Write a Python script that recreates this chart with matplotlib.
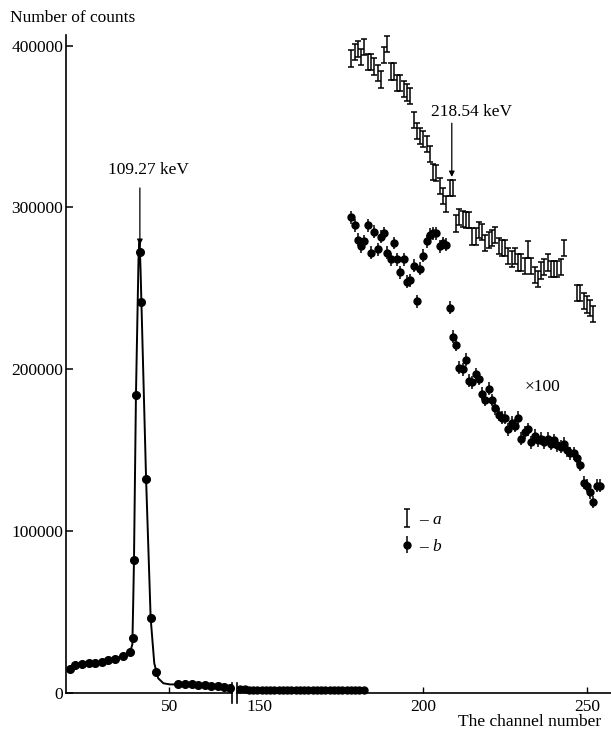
import matplotlib
matplotlib.use("Agg")
import matplotlib.pyplot as plt
from matplotlib.lines import Line2D
import numpy as np

plt.rcParams['font.family'] = ['Liberation Serif', 'DejaVu Serif']
plt.rcParams['mathtext.fontset'] = 'custom'
plt.rcParams['mathtext.it'] = 'Liberation Serif:italic'
plt.rcParams['mathtext.rm'] = 'Liberation Serif'

# ---------------- data ----------------
# left segment (main peak), series b points
left_ch = [19.6, 21.3, 23.3, 25.3, 27.3, 29.3, 31.3, 33.4, 35.8, 38.0,
           38.8, 39.2, 39.8, 40.9, 41.2, 42.9, 44.3, 46.0,
           52.8, 54.8, 56.8, 58.8, 60.8, 62.8, 64.8, 66.8, 68.6]
left_counts = [14600, 17300, 18000, 18300, 18700, 19300, 20200, 21200, 22800, 25500,
               33800, 82200, 184100, 272700, 241800, 132000, 46100, 13200,
               5600, 5500, 5400, 5200, 4900, 4500, 4100, 3700, 3200]

# fitted curve through the peak
curve_ch = [19.6, 21.3, 23.3, 25.3, 27.3, 29.3, 31.3, 33.4, 35.8, 38.0, 38.7, 39.0,
            39.2, 39.8, 40.6, 40.9, 41.2, 42.9, 44.3, 45.4, 46.6, 48.2, 50.2, 52.8]
curve_counts = [14600, 17000, 18000, 18400, 18800, 19400, 20200, 21200, 22700, 25300, 30000, 60000,
                82200, 184100, 270000, 279000, 262000, 132000, 46100, 18400, 9100, 6000, 5300, 5300]

# right segment, low-level series b points (unscaled)
low_ch = [144.0, 145.3, 146.6, 147.9, 149.2, 150.5, 151.8, 153.1, 154.4, 155.7,
          157.0, 158.3, 159.6, 160.9, 162.2, 163.5, 164.8, 166.1, 167.4, 168.7,
          170.0, 171.3, 172.6, 173.9, 175.2, 176.5, 177.8, 179.1, 180.4, 181.7]
low_counts = [2200, 2200, 2100, 2100, 2100, 2000, 2000, 2000, 1900, 1900,
              1900, 1900, 1800, 1800, 1800, 1800, 1800, 1700, 1700, 1700,
              1700, 1700, 1700, 1700, 1600, 1600, 1600, 1600, 1600, 1600]

# series a (error bars only)
a_ch = [178, 179, 180, 181, 182, 183, 184, 185, 186, 187, 188, 189, 190, 191, 192, 193,
        194, 195, 196, 197, 198, 199, 200, 201, 202, 203, 204, 205, 206, 207, 208, 209,
        210, 211, 212, 213, 214, 215, 216, 217, 218, 219, 220, 221, 222, 223, 224, 225,
        226, 227, 228, 229, 230, 231, 232, 233, 234, 235, 236, 237, 238, 239, 240, 241,
        242, 243, 247, 248, 249, 250, 251, 252]
a_counts = [392000, 396000, 398000, 393000, 399000, 390000, 390000, 387000, 383000, 379000,
            394000, 401000, 384000, 384000, 377000, 377000, 373000, 371000, 369000, 354000,
            347000, 344000, 342000, 339000, 333000, 322000, 321000, 313000, 307000, 302000,
            312000, 312000, 290000, 294000, 293000, 292000, 292000, 282000, 282000, 286000,
            285000, 278000, 280000, 281000, 283000, 276000, 275000, 275000, 270000, 268000,
            270000, 266000, 266000, 264000, 274000, 264000, 258000, 256000, 261000, 263000,
            266000, 262000, 262000, 262000, 263000, 275000, 247000, 247000, 242000, 240000,
            238000, 234000]
a_err = 5000

# series b (x100) with error bars
b_ch = list(range(178, 255))
b_counts = [294000, 289000, 280000, 276000, 279000, 289000, 272000, 285000, 274000, 282000,
            284000, 272000, 268000, 278000, 268000, 260000, 268000, 254000, 255000, 264000,
            242000, 262000, 270000, 279000, 283000, 284000, 284000, 276000, 278000, 277000,
            238000, 220000, 215000, 201000, 200000, 206000, 193000, 192000, 197000, 194000,
            185000, 181000, 188000, 181000, 176000, 172000, 170000, 170000, 163000, 167000,
            165000, 170000, 157000, 161000, 163000, 155000, 159000, 156000, 157000, 155000,
            157000, 154000, 156000, 153000, 152000, 154000, 150000, 148000, 148000, 145000,
            141000, 130000, 128000, 124000, 118000, 128000, 128000]
b_err = 4000

y_ticks = [0, 100000, 200000, 300000, 400000]
y_ticklabels = ['0', '100000', '200000', '300000', '400000']
left_xticks = [50]
right_xticks = [150, 200, 250]

# ---------------- figure ----------------
W, H = 611, 733
fig = plt.figure(figsize=(W / 100, H / 100), dpi=100)

def fx(px):
    return px / W

def fy(py):
    return 1 - py / H

bottom = fy(693)
top = fy(35)
axL = fig.add_axes([fx(66), bottom, fx(232) - fx(66), top - bottom])
axR = fig.add_axes([fx(237), bottom, fx(611) - fx(237), top - bottom], sharey=axL)

ymax = 406500
for ax in (axL, axR):
    ax.set_ylim(0, ymax)
    ax.spines['top'].set_visible(False)
    ax.spines['right'].set_visible(False)
    ax.patch.set_alpha(0)
    for s in ax.spines.values():
        s.set_linewidth(1.2)
axL.set_xlim(18.41, 69.17)
axR.set_xlim(143.0, 257.4)
axR.spines['left'].set_visible(False)

fs = 12.5
axL.set_yticks(y_ticks)
axL.set_yticklabels(y_ticklabels)
axL.tick_params(axis='y', direction='in', length=5, width=1.1, pad=2, labelsize=fs)
axL.set_xticks(left_xticks)
axL.tick_params(axis='x', direction='in', length=4, width=1.0, pad=4, labelsize=fs)
axR.set_xticks(right_xticks)
axR.tick_params(axis='x', direction='in', length=4, width=1.0, pad=4, labelsize=fs)
axR.tick_params(axis='y', left=False, labelleft=False)

# main peak
axL.plot(curve_ch, curve_counts, color='black', lw=1.4, zorder=2)
axL.plot(left_ch, left_counts, 'o', color='black', ms=5.5, zorder=3, clip_on=False)
axR.plot(low_ch, low_counts, 'o', color='black', ms=5, zorder=3, clip_on=False)

# series a and b
ha = axR.errorbar(a_ch, a_counts, yerr=a_err, fmt='none', ecolor='black',
                  elinewidth=1.1, capsize=2.2, capthick=1.1)
hb = axR.errorbar(b_ch, b_counts, yerr=b_err, fmt='o', color='black', ms=5,
                  elinewidth=1.1, capsize=0)

# annotations
arrow_kw = dict(arrowstyle='-|>', color='black', lw=0.9, mutation_scale=8,
                shrinkA=0, shrinkB=0)
axL.annotate('', xy=(41.0, 276800), xytext=(41.0, 312000), arrowprops=arrow_kw)
axL.text(43.7, 323000, '109.27 keV', ha='center', va='center', fontsize=fs)
axR.annotate('', xy=(208.7, 318800), xytext=(208.7, 352000), arrowprops=arrow_kw)
axR.text(214.6, 359000, '218.54 keV', ha='center', va='center', fontsize=fs)
axR.text(236.6, 189000, '×100', ha='center', va='center', fontsize=fs)

leg = axR.legend([ha, hb], [r'– $\mathit{a}$', r'– $\mathit{b}$'],
                 loc='upper left', bbox_to_anchor=(fx(402), fy(512)),
                 bbox_transform=fig.transFigure, frameon=False, fontsize=fs,
                 handlelength=0.6, handletextpad=0.4, labelspacing=0.6,
                 borderpad=0, borderaxespad=0)

# axis break marks
for px in (232, 237):
    fig.add_artist(Line2D([fx(px), fx(px)], [fy(703), fy(683)], color='black', lw=1.2))

fig.text(fx(10), fy(18), 'Number of counts', fontsize=fs, ha='left', va='center')
fig.text(fx(601), fy(722), 'The channel number', fontsize=fs, ha='right', va='center')

fig.savefig('out.png', dpi=100)
